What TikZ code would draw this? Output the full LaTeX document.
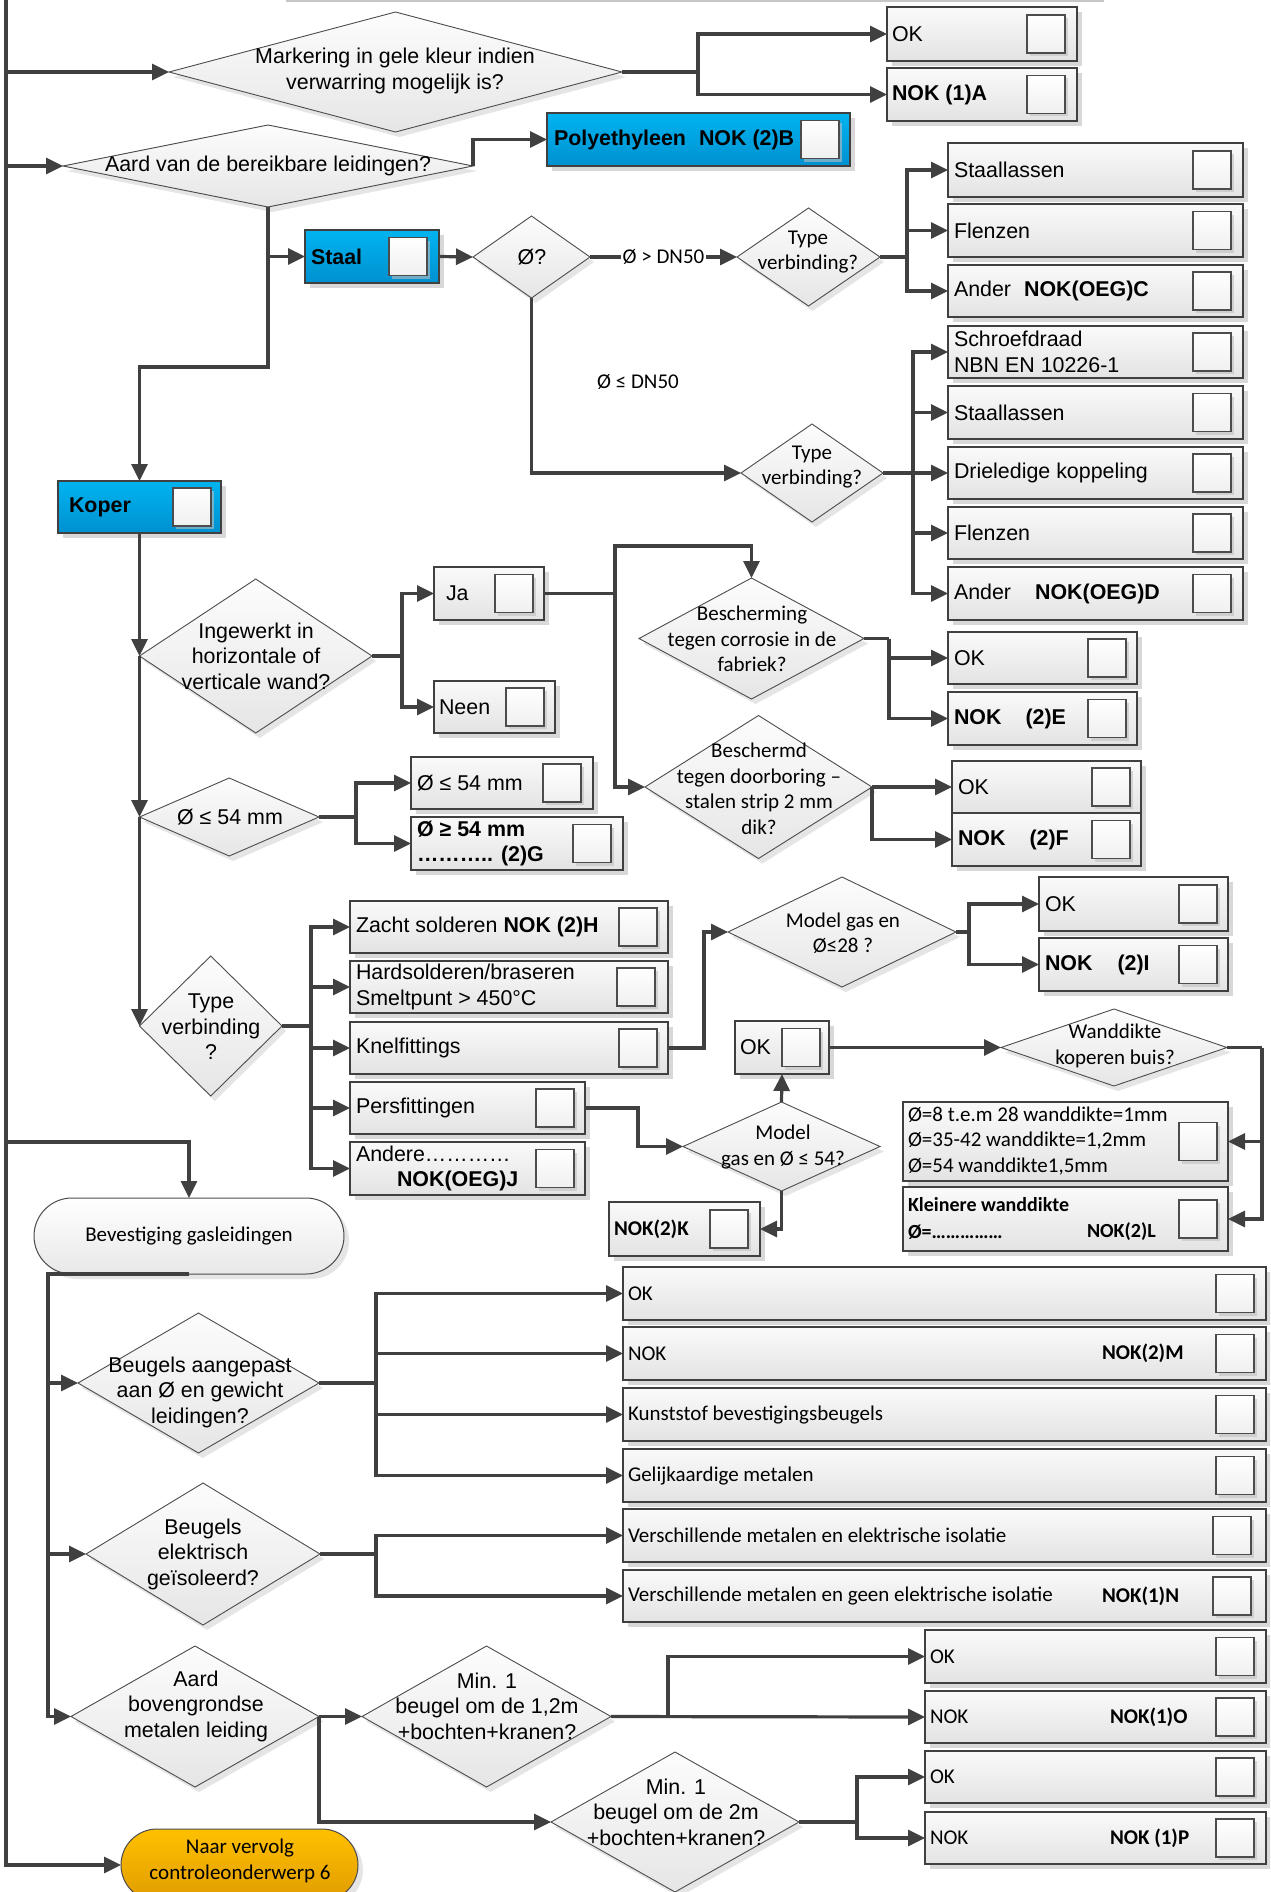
\documentclass[tikz,border=0pt]{standalone}
\usepackage{fontspec}
\setmainfont{Liberation Sans}
\newfontfamily\calfont{Carlito}
\usetikzlibrary{shapes.geometric,arrows.meta,shadows}
\definecolor{linec}{HTML}{404040}
\definecolor{blueT}{HTML}{00B4F0}
\definecolor{blueB}{HTML}{0090D0}
\definecolor{orT}{HTML}{FFC000}
\definecolor{orB}{HTML}{E09C00}
\tikzset{
  base/.style={inner sep=0pt, outer sep=0pt},
  obox/.style={base, rectangle, draw=black!75, line width=1.3pt, top color=black!2, bottom color=black!11,
    drop shadow={shadow xshift=5pt, shadow yshift=-5pt, fill=black!25, opacity=0.6}},
  bbox/.style={obox, top color=blueT, bottom color=blueB},
  cbox/.style={base, rectangle, draw=black!70, line width=1.2pt, minimum width=38pt, minimum height=38pt,
    top color=white, bottom color=black!6, drop shadow={shadow xshift=3pt, shadow yshift=-3pt, fill=black!25, opacity=0.6}},
  dmd/.style={base, diamond, draw=black!70, line width=0.9pt, top color=black!1, bottom color=black!10,
    drop shadow={shadow xshift=4pt, shadow yshift=-5pt, fill=black!20, opacity=0.5}},
  ar/.style={base, font=\fontsize{21.4}{25.5}\selectfont, align=center},
  cal/.style={base, font=\calfont\fontsize{21}{25.5}\selectfont, align=center},
  arl/.style={ar, align=left, anchor=west},
  call/.style={cal, align=left, anchor=west},
  lblbox/.style={cal, fill=white, inner xsep=2pt, inner ysep=1pt},
  conn/.style={draw=linec, line width=3.2pt, -{Triangle[length=17pt,width=16pt]}},
  wire/.style={draw=linec, line width=3.2pt},
}
% option box: style, name, x1, y1, x2, y2, left edge of the tick square
\newcommand\optbox[7][obox]{%
  \node[#1, anchor=north west, minimum width={#5-#3}, minimum height={#6-#4}] (#2) at (#3,#4) {};
  \node[cbox, anchor=west] (#2-c) at (#7,{(#4+#6)/2}) {};}
% decision: name, cx, cy, width, height
\newcommand\dmdnode[5]{\node[dmd, minimum width=#4, minimum height=#5] (#1) at (#2,#3) {};}
\begin{document}
\begin{tikzpicture}[x=1pt,y=-1pt]
\useasboundingbox (0,0) rectangle (1270,1892);
\clip (0,0) rectangle (1270,1892);
\fill[white] (0,0) rectangle (1270,1892);
\draw[black!22, line width=3pt] (286,1) -- (1104,1);

% ---------- decisions ----------
\dmdnode{d1}{395.5}{72}{453}{120}
\dmdnode{d2}{268}{166}{410}{82}
\dmdnode{dQ}{531.5}{257}{117}{82}
\dmdnode{tv1}{808.5}{257}{143}{98}
\dmdnode{tv2}{812}{473}{142}{98}
\dmdnode{ing}{255.75}{656}{232.5}{154}
\dmdnode{dsm}{229.25}{817}{179.5}{78}
\dmdnode{bes}{751.5}{638.5}{225}{121}
\dmdnode{bmd}{758.5}{787}{227}{143}
\dmdnode{tvL}{210.75}{1026}{142.5}{140}
\dmdnode{mg28}{842}{932}{228}{110}
\dmdnode{wd}{1114}{1047.5}{226}{77}
\dmdnode{mg54}{781.5}{1146.5}{197}{89}
\dmdnode{beuA}{198.5}{1383}{241}{140}
\dmdnode{beuB}{203}{1554}{234}{142}
\dmdnode{aard}{195}{1716.5}{248}{141}
\dmdnode{m12}{486.5}{1716.5}{249}{141}
\dmdnode{m2}{675}{1822}{248}{140}

\node[ar] (d1-t) at (395,71) {Markering in gele kleur indien\\verwarring mogelijk is?};
\node[ar] (d2-t) at (268,166) {Aard van de bereikbare leidingen?};
\node[ar] (dQ-t) at (532,257) {Ø?};
\node[cal] (tv1-t) at (808,252) {Type\\verbinding?};
\node[cal] (tv2-t) at (812,467) {Type\\verbinding?};
\node[ar] (ing-t) at (256,656) {Ingewerkt in\\horizontale of\\verticale wand?};
\node[ar] (dsm-t) at (230,817) {Ø ≤ 54 mm};
\node[cal] (bes-t) at (752,639) {Bescherming\\tegen corrosie in de\\fabriek?};
\node[cal] (bmd-t) at (759,789) {Beschermd\\tegen doorboring –\\stalen strip 2 mm\\dik?};
\node[ar] (tvL-t) at (211,1027) {Type\\verbinding\\?};
\node[cal] (mg28-t) at (843,933) {Model gas en\\Ø≤28 ?};
\node[cal] (wd-t) at (1115,1046) {Wanddikte\\koperen buis?};
\node[cal] (mg54-t) at (783,1147) {Model\\gas en Ø ≤ 54?};
\node[ar] (beuA-t) at (200,1392) {Beugels aangepast\\aan Ø en gewicht\\leidingen?};
\node[ar] (beuB-t) at (203,1554) {Beugels\\elektrisch\\geïsoleerd?};
\node[ar] (aard-t) at (196,1706) {Aard\\bovengrondse\\metalen leiding};
\node[ar] (m12-t) at (487,1706) {Min. 1\\beugel om de 1,2m\\+bochten+kranen?};
\node[ar] (m2-t) at (676,1812) {Min. 1\\beugel om de 2m\\+bochten+kranen?};

% ---------- terminals ----------
\node[base, rectangle, rounded corners=38pt, draw=black!70, line width=1pt, top color=white, bottom color=black!9,
  minimum width=310pt, minimum height=76pt, drop shadow={shadow xshift=5pt, shadow yshift=-5pt, fill=black!20, opacity=0.5}] (bev) at (189,1236) {};
\node[cal] (bev-t) at (189,1236) {Bevestiging gasleidingen};
\node[base, rectangle, rounded corners=36pt, draw=black!70, line width=1pt, top color=orT, bottom color=orB,
  minimum width=237pt, minimum height=72pt, drop shadow={shadow xshift=5pt, shadow yshift=-5pt, fill=black!20, opacity=0.5}] (naar) at (239.5,1865) {};
\node[cal] (naar-t) at (240,1861) {Naar vervolg\\controleonderwerp 6};

% ---------- option boxes ----------
\optbox{okA}{887}{7}{1077}{61}{1027}
\optbox{nokA}{887}{68}{1077}{121}{1027}
\optbox[bbox]{poly}{547}{113}{850}{166}{801}
\optbox[bbox]{staal}{305}{230}{439}{283}{389}
\optbox{st1}{948}{143}{1243}{197}{1193}
\optbox{fl1}{948}{204}{1243}{257}{1193}
\optbox{anC}{948}{265}{1243}{317}{1193}
\optbox{schr}{948}{326}{1243}{378}{1193}
\optbox{st2}{948}{386}{1243}{439}{1193}
\optbox{drie}{948}{447}{1243}{499}{1193}
\optbox{fl2}{948}{507}{1243}{559}{1193}
\optbox{anD}{948}{567}{1243}{620}{1193}
\optbox[bbox]{koper}{58}{481}{221}{533}{173}
\optbox{ja}{434}{567}{544}{620}{495}
\optbox{neen}{434}{681}{555}{733}{506}
\optbox{okE}{948}{632}{1137}{684}{1088}
\optbox{nokE}{948}{692}{1137}{745}{1088}
\optbox{okF}{952}{761}{1141}{813}{1092}
\optbox{nokF}{952}{813}{1141}{866}{1092}
\optbox{leS}{411}{757}{593}{809}{543}
\optbox{geS}{411}{817}{623}{870}{573}
\optbox{zacht}{350}{901}{668}{953}{619}
\optbox{hard}{350}{961}{668}{1013}{617}
\optbox{knel}{350}{1022}{668}{1074}{619}
\optbox{pers}{350}{1082}{585}{1134}{536}
\optbox{andere}{350}{1142}{585}{1195}{536}
\optbox{ok28}{1039}{877}{1228}{931}{1179}
\optbox{nok28}{1039}{938}{1228}{991}{1179}
\optbox{okS}{735}{1021}{829}{1074}{782}
\optbox{wdA}{903}{1102}{1228}{1181}{1179}
\optbox{wdB}{903}{1187}{1228}{1251}{1179}
\optbox{nokK}{609}{1202}{760}{1256}{710}
\optbox{bOK}{623}{1267}{1266}{1320}{1216}
\optbox{bNOK}{623}{1327}{1266}{1380}{1216}
\optbox{bKun}{623}{1388}{1266}{1441}{1216}
\optbox{bGel}{623}{1449}{1266}{1502}{1216}
\optbox{bVa}{623}{1509}{1266}{1562}{1213}
\optbox{bVb}{623}{1570}{1266}{1622}{1213}
\optbox{okO}{925}{1630}{1266}{1683}{1216}
\optbox{nokO}{925}{1691}{1266}{1743}{1216}
\optbox{okP}{925}{1751}{1266}{1803}{1216}
\optbox{nokP}{925}{1812}{1266}{1864}{1216}

% ---------- box labels ----------
\node[arl] (okA-t) at ([xshift=5pt]okA.west) {OK};
\node[arl] (nokA-t) at ([xshift=5pt]nokA.west) {\textbf{NOK (1)A}};
\node[arl] (poly-t) at (554,139.5) {\textbf{Polyethyleen\hspace{13pt}NOK (2)B}};
\node[arl] (staal-t) at (311,256.5) {\textbf{Staal}};
\node[arl] (st1-t) at ([xshift=6pt]st1.west) {Staallassen};
\node[arl] (fl1-t) at ([xshift=6pt]fl1.west) {Flenzen};
\node[arl] (anC-t) at ([xshift=6pt]anC.west) {Ander\hspace{13pt}\textbf{NOK(OEG)C}};
\node[arl] (schr-t) at ([xshift=6pt]schr.west) {Schroefdraad\\NBN EN 10226-1};
\node[arl] (st2-t) at ([xshift=6pt]st2.west) {Staallassen};
\node[arl] (drie-t) at ([xshift=6pt]drie.west) {Drieledige koppeling};
\node[arl] (fl2-t) at ([xshift=6pt]fl2.west) {Flenzen};
\node[arl] (anD-t) at ([xshift=6pt]anD.west) {Ander\hspace{24pt}\textbf{NOK(OEG)D}};
\node[arl] (koper-t) at (69,507) {\textbf{Koper}};
\node[arl] (ja-t) at (446,593.5) {Ja};
\node[arl] (neen-t) at ([xshift=5pt]neen.west) {Neen};
\node[arl] (okE-t) at ([xshift=6pt]okE.west) {OK};
\node[arl] (nokE-t) at ([xshift=6pt]nokE.west) {\textbf{NOK\hspace{24pt}(2)E}};
\node[arl] (okF-t) at ([xshift=6pt]okF.west) {OK};
\node[arl] (nokF-t) at ([xshift=6pt]nokF.west) {\textbf{NOK\hspace{24pt}(2)F}};
\node[arl] (leS-t) at ([xshift=6pt]leS.west) {Ø ≤ 54 mm};
\node[arl] (geS-t) at ([xshift=6pt]geS.west) {\textbf{Ø ≥ 54 mm}\\\textbf{……….. (2)G}};
\node[arl] (zacht-t) at ([xshift=6pt]zacht.west) {Zacht solderen \textbf{NOK (2)H}};
\node[arl] (hard-t) at ([xshift=6pt]hard.west) {Hardsolderen/braseren\\Smeltpunt > 450°C};
\node[arl] (knel-t) at ([xshift=6pt]knel.west) {Knelfittings};
\node[arl] (pers-t) at ([xshift=6pt]pers.west) {Persfittingen};
\node[arl] (andere-t) at ([xshift=6pt]andere.west) {Andere…………\\\hspace*{41pt}\textbf{NOK(OEG)J}};
\node[arl] (ok28-t) at ([xshift=6pt]ok28.west) {OK};
\node[arl] (nok28-t) at ([xshift=6pt]nok28.west) {\textbf{NOK\hspace{25pt}(2)I}};
\node[arl] (okS-t) at ([xshift=5pt]okS.west) {OK};
\node[call] (wdA-t) at (908,1141) {Ø=8 t.e.m 28 wanddikte=1mm\\Ø=35-42 wanddikte=1,2mm\\Ø=54 wanddikte1,5mm};
\node[call, font=\calfont\fontsize{20}{25}\selectfont\bfseries] (wdB-t1) at (908,1205) {Kleinere wanddikte};
\node[call, font=\calfont\fontsize{20}{25}\selectfont\bfseries] (wdB-t2) at (908,1232) {Ø=……………};
\node[call, font=\calfont\fontsize{20}{25}\selectfont\bfseries] (wdB-t3) at (1087,1232) {NOK(2)L};
\node[call, font=\calfont\fontsize{21}{25}\selectfont\bfseries] (nokK-t) at (614,1229) {NOK(2)K};
\node[call] (bOK-t) at ([xshift=5pt]bOK.west) {OK};
\node[call] (bNOK-t) at ([xshift=5pt]bNOK.west) {NOK};
\node[call] (bNOK-t2) at (1102,1353.5) {\textbf{NOK(2)M}};
\node[call] (bKun-t) at ([xshift=5pt]bKun.west) {Kunststof bevestigingsbeugels};
\node[call] (bGel-t) at ([xshift=5pt]bGel.west) {Gelijkaardige metalen};
\node[call] (bVa-t) at ([xshift=5pt]bVa.west) {Verschillende metalen en elektrische isolatie};
\node[call] (bVb-t) at ([xshift=5pt]bVb.west) {Verschillende metalen en geen elektrische isolatie};
\node[call] (bVb-t2) at (1102,1596) {\textbf{NOK(1)N}};
\node[call] (okO-t) at ([xshift=5pt]okO.west) {OK};
\node[call] (nokO-t) at ([xshift=5pt]nokO.west) {NOK};
\node[call] (nokO-t2) at (1110,1717) {\textbf{NOK(1)O}};
\node[call] (okP-t) at ([xshift=5pt]okP.west) {OK};
\node[call] (nokP-t) at ([xshift=5pt]nokP.west) {NOK};
\node[call] (nokP-t2) at (1110,1838) {\textbf{NOK (1)P}};
\node[cal] (dn) at (638,382) {Ø ≤ DN50};

% ---------- connectors ----------
\coordinate (top) at (6,-4);
\coordinate (jb) at (6,1142);
\draw[conn] (top) |- (naar.west);
\draw[conn] (d1.west -| top) -- (d1.west);
\draw[conn] (d2.west -| top) -- (d2.west);
\draw[conn] (jb) -| (bev.north);
\draw[wire] (d1.east) -- ++(76,0) coordinate (j1);
\draw[conn] (j1) |- (okA.west);
\draw[conn] (j1) |- (nokA.west);
\draw[conn] (d2.east) |- (poly.west);
\draw[conn] (d2.south) |- (staal.west);
\draw[conn] (d2.south) -- ++(0,160) -| (koper.north);
\draw[conn] (staal.east) -- (dQ.west);
\draw[conn] (dQ.east) -- node[lblbox] (gt) {Ø > DN50} (tv1.west);
\draw[conn] (dQ.south) |- (tv2.west);
\draw[wire] (tv1.east) -- ++(27,0) coordinate (j2);
\foreach \bx in {st1,fl1,anC} \draw[conn] (j2) |- (\bx.west);
\draw[wire] (tv2.east) -- ++(30,0) coordinate (j3);
\foreach \bx in {schr,st2,drie,fl2,anD} \draw[conn] (j3) |- (\bx.west);
\draw[conn] (koper.south) -- (ing.west);
\draw[conn] (ing.west) -- (dsm.west);
\draw[conn] (dsm.west) -- (tvL.west);
\draw[wire] (ing.east) -- ++(30,0) coordinate (j4);
\draw[conn] (j4) |- (ja.west);
\draw[conn] (j4) |- (neen.west);
\draw[wire] (ja.east) -- ++(71,0) coordinate (j5);
\draw[conn] (j5) |- ([yshift=32pt]bes.north) -- (bes.north);
\draw[conn] (j5) |- (bmd.west);
\draw[wire] (bes.east) -- ++(25,0) coordinate (j6);
\draw[conn] (j6) |- (okE.west);
\draw[conn] (j6) |- (nokE.west);
\draw[conn] (bmd.east) -- (okF.west);
\draw[conn] (bmd.east) |- (nokF.west);
\draw[wire] (dsm.east) -- ++(37,0) coordinate (j7);
\draw[conn] (j7) |- (leS.west);
\draw[conn] (j7) |- (geS.west);
\draw[wire] (tvL.east) -- ++(29,0) coordinate (j8);
\foreach \bx in {zacht,hard,knel,pers,andere} \draw[conn] (j8) |- (\bx.west);
\draw[conn] (knel.east) -- ++(36,0) |- (mg28.west);
\draw[wire] (mg28.east) -- ++(13,0) coordinate (j9);
\draw[conn] (j9) |- (ok28.west);
\draw[conn] (j9) |- (nok28.west);
\draw[conn] (pers.east) -- ++(53,0) |- (mg54.west);
\draw[conn] (mg54.north) -- (okS.south);
\draw[conn] (okS.east) -- (wd.west);
\draw[wire] (wd.east) -- ++(35,0) coordinate (j10);
\draw[conn] (j10) |- (wdA.east);
\draw[conn] (j10) |- (wdB.east);
\draw[conn] (mg54.south) |- (nokK.east);
\coordinate (jv) at (48,1274);
\draw[conn] (bev.south) -- (jv) |- (aard.west);
\draw[conn] (beuA.west -| jv) -- (beuA.west);
\draw[conn] (beuB.west -| jv) -- (beuB.west);
\draw[wire] (beuA.east) -- ++(57,0) coordinate (j11);
\foreach \bx in {bOK,bNOK,bKun,bGel} \draw[conn] (j11) |- (\bx.west);
\draw[wire] (beuB.east) -- ++(56,0) coordinate (j12);
\foreach \bx in {bVa,bVb} \draw[conn] (j12) |- (\bx.west);
\draw[conn] (aard.east) -- (m12.west);
\draw[conn] (aard.east) |- (m2.west);
\draw[conn] (m12.east) -- (nokO.west);
\draw[conn] (m12.east) -- ++(57,0) |- (okO.west);
\draw[wire] (m2.east) -- ++(58,0) coordinate (j13);
\draw[conn] (j13) |- (okP.west);
\draw[conn] (j13) |- (nokP.west);
\end{tikzpicture}
\end{document}
